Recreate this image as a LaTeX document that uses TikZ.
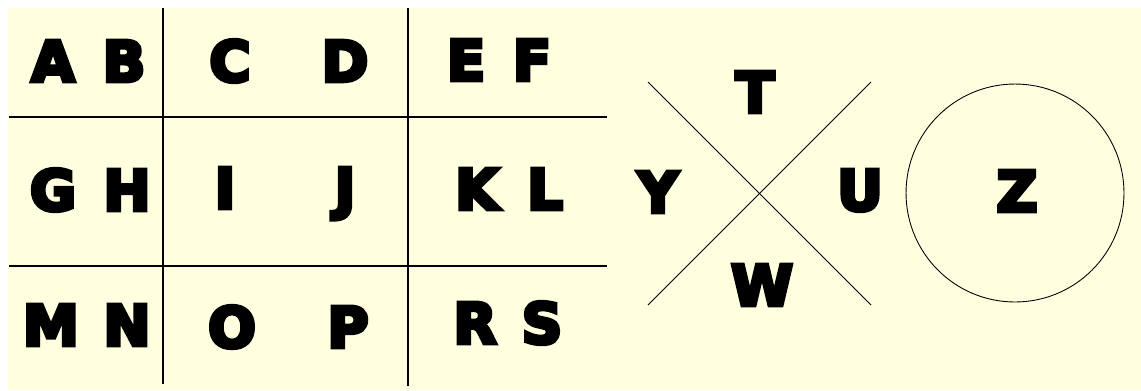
\documentclass[tikz,border=0pt]{standalone}
\usepackage{fontspec}
\setmainfont{DejaVu Sans}
\usetikzlibrary{positioning}
\definecolor{cream}{RGB}{255,255,224}
\newcommand{\heavytext}[1]{\special{pdf:literal direct 2 Tr 2.2 w}#1\special{pdf:literal direct 0 Tr}}

\begin{document}
\begin{tikzpicture}[
    x=0.02cm, y=-0.02cm,
    letter/.style={font=\fontsize{32}{32}\selectfont\bfseries, text height=23.3pt, text depth=0pt, inner sep=0pt},
    gridline/.style={line width=0.8pt},
    crossline/.style={line width=0.5pt},
    ring/.style={draw, line width=0.5pt, circle, minimum size=4.36cm, inner sep=0pt}
]

% Hintergrund
\fill[white] (0,0) rectangle (1141,390);
\fill[cream] (8,8) rectangle (1141,390);

% Gitter
\draw[gridline] (163,8) -- (163,384);
\draw[gridline] (408,8) -- (408,386);
\draw[gridline] (9,117) -- (607,117);
\draw[gridline] (9,266) -- (607,266);

% Buchstaben im Gitter
\node[letter] (A) at (53,61) {\heavytext{A}};
\node[letter] (B) at (124,61) {\heavytext{B}};
\node[letter] (C) at (230,61) {\heavytext{C}};
\node[letter] (D) at (345,61) {\heavytext{D}};
\node[letter] (E) at (466,60) {\heavytext{E}};
\node[letter] (F) at (532,60) {\heavytext{F}};
\node[letter] (G) at (53,190) {\heavytext{G}};
\node[letter] (H) at (127,190) {\heavytext{H}};
\node[letter] (I) at (225,188) {\heavytext{I}};
\node[letter] (J) at (345,188) {\heavytext{J}};
\node[letter] (K) at (477,189) {\heavytext{K}};
\node[letter] (L) at (545,189) {\heavytext{L}};
\node[letter] (M) at (51,325) {\heavytext{M}};
\node[letter] (N) at (127,325) {\heavytext{N}};
\node[letter] (O) at (232,327) {\heavytext{O}};
\node[letter] (P) at (348,327) {\heavytext{P}};
\node[letter] (R) at (475,323) {\heavytext{R}};
\node[letter] (S) at (542,323) {\heavytext{S}};

% Kreuz
\coordinate (nw) at (648,82);
\coordinate (ne) at (871,82);
\coordinate (sw) at (648,305);
\coordinate (se) at (871,305);
\draw[crossline] (nw) -- (se);
\draw[crossline] (ne) -- (sw);
\node[letter] (T) at (755,92) {\heavytext{T}};
\node[letter] (Y) at (658,192) {\heavytext{Y}};
\node[letter] (U) at (860,190) {\heavytext{U}};
\node[letter] (W) at (762,285) {\heavytext{W}};

% Kreis
\node[ring] (circ) at (1015,193) {};
\node[letter] (Z) at (1017,191) {\heavytext{Z}};

\end{tikzpicture}
\end{document}
